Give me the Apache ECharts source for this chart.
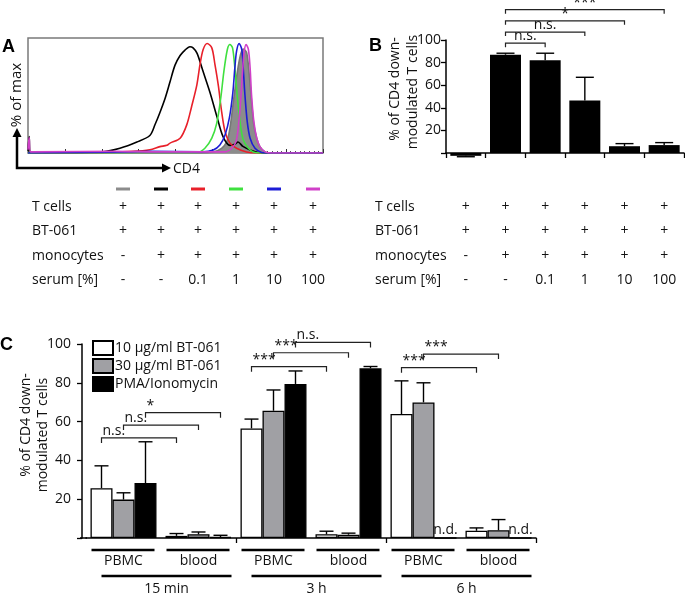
<!DOCTYPE html>
<html>
<head>
<meta charset="utf-8">
<script src="https://cdn.jsdelivr.net/npm/echarts/dist/echarts.min.js"></script>
<style>
  html, body { margin: 0; padding: 0; background: #fff; }
  #chart { width: 685px; height: 596px; }
</style>
</head>
<body>
<div id="chart"></div>
<script>
const FONT = '"Open Sans", sans-serif';

// ---- panel A: CD4 histograms, [channel, % of max]
const curveColors = ['#8c8c8c', '#000000', '#e8202a', '#3fe03f', '#1c1cd6', '#d040c8'];
const grayCurve = [[0, 0], [600, 0], [643, 1], [672, 4.3], [690, 10.4], [701, 22.7], [713, 47], [727, 74.6], [738, 90], [747, 95], [759, 91.5], [768, 71.5], [776, 47], [784, 25.7], [794, 13.5], [805, 5.8], [823, 1], [840, 0], [1024, 0]];
const blackCurve = [[0, 2], [4, 15], [8, 1], [87, 0.5], [260, 1.2], [319, 4.3], [378, 10], [423, 16], [441, 26], [458, 37], [476, 50], [493, 65], [510, 80], [528, 89], [545, 94], [562, 97], [573, 96], [587, 91], [607, 75], [632, 55], [656, 33], [677, 15], [701, 7], [718, 8], [729, 10], [746, 6], [771, 2.7], [798, 0.5], [840, 0], [1024, 0]];
const redCurve = [[0, 0], [250, 0.5], [364, 1.5], [423, 3], [458, 5.8], [482, 7], [493, 9], [528, 13.5], [551, 25.7], [568, 42.5], [586, 62], [597, 80.7], [608, 94.5], [622, 100], [638, 96], [649, 80.7], [661, 61], [672, 38], [684, 19.5], [701, 9], [724, 4.3], [759, 1], [788, 0], [1024, 0]];
const greenCurve = [[0, 0], [423, 0.5], [586, 0.5], [614, 4.3], [638, 13.5], [655, 27], [669, 50], [680, 74.6], [692, 94.5], [701, 99], [710, 96], [718, 77.7], [726, 53], [736, 28.7], [747, 12], [765, 4.3], [782, 1], [805, 0], [1024, 0]];
const blueCurve = [[0, 0], [347, 1], [423, 1.5], [607, 1], [643, 2.7], [666, 7.3], [684, 16.5], [699, 32], [711, 55], [718, 77.7], [724, 93], [733, 100], [742, 94.5], [747, 77.7], [753, 53], [761, 28.7], [771, 13.5], [788, 4.3], [811, 0.5], [833, 0], [1024, 0]];
const magentaCurve = [[0, 3], [4, 14], [9, 1], [300, 1.5], [450, 1], [684, 1], [707, 4.3], [722, 10.4], [731, 25.7], [738, 47], [744, 71.5], [750, 91.5], [757, 99], [765, 94.5], [771, 77.7], [776, 53], [784, 28.7], [794, 13.5], [805, 5.8], [823, 1], [847, 0], [1024, 0]];
const curves = [grayCurve, blackCurve, redCurve, greenCurve, blueCurve, magentaCurve];

// condition table (same for A and B)
const rowNames = ['T cells', 'BT-061', 'monocytes', 'serum [%]'];
const tCells = ['+', '+', '+', '+', '+', '+'];
const bt061 = ['+', '+', '+', '+', '+', '+'];
const monocytes = ['-', '+', '+', '+', '+', '+'];
const serum = ['-', '-', '0.1', '1', '10', '100'];
const tableRows = [tCells, bt061, monocytes, serum];

// ---- panel B
const bCategories = ['c1', 'c2', 'c3', 'c4', 'c5', 'c6'];
const bValues = [-2.5, 87, 82, 46.5, 6, 7];
const bErrTops = [-3.3, 88.3, 88.3, 67, 8.3, 9.2];
const bBrackets = [[1, 2, 97.2], [1, 3, 107], [1, 4, 117], [1, 5, 126.8]];
const bBracketLabels = ['n.s.', 'n.s.', '*', '***'];

// ---- panel C
const cGroups = ['PBMC', 'blood', 'PBMC', 'blood', 'PBMC', 'blood'];
const cTimes = ['15 min', '3 h', '6 h'];
const cSeriesNames = ['10 µg/ml BT-061', '30 µg/ml BT-061', 'PMA/Ionomycin'];
const bt10Values = [25.7, 1.1, 56.5, 1.9, 63.9, 3.7];
const bt10Err = [37.2, 2.3, 61.3, 3.5, 81, 5.2];
const bt30Values = [19.8, 1.9, 65.6, 1.7, 69.9, 4];
const bt30Err = [23.3, 3.1, 76.3, 2.5, 80, 9.5];
const pmaValues = [28.3, 0.5, 79.4, 87.5, null, null]; // null = n.d.
const pmaErr = [49.6, 1.4, 86.1, 88.4, null, null];
const cBrackets = [[0, 0, 1, 0, 51.6], [0, 1, 1, 1, 58.2], [0, 2, 1, 2, 64.6], [2, 0, 3, 0, 88.3], [2, 1, 3, 1, 95.5], [2, 2, 3, 2, 100.8], [4, 0, 5, 0, 87.8], [4, 1, 5, 1, 94.8]];
const cBracketLabels = ['n.s.', 'n.s.', '*', '***', '***', 'n.s.', '***', '***'];

const yTitle = ['% of CD4 down-', 'modulated T cells'];

const BAR_B = 31;
const BAR_C = 22;

const chart = echarts.init(document.getElementById('chart'));

// error bar: data [group, barIndex, value, errTop]
function errorSeries(axis, data, barW, nBars, cap) {
  return {
    type: 'custom', xAxisIndex: axis, yAxisIndex: axis, data, silent: true, z: 5,
    encode: { x: 0, y: [2, 3] },
    renderItem(params, api) {
      const cx = api.coord([api.value(0), 0])[0] + (api.value(1) - (nBars - 1) / 2) * barW;
      const y1 = api.coord([api.value(0), api.value(2)])[1];
      const y2 = api.coord([api.value(0), api.value(3)])[1];
      const st = { stroke: '#000', lineWidth: 1.4 };
      return {
        type: 'group',
        children: [
          { type: 'line', shape: { x1: cx, y1, x2: cx, y2 }, style: st },
          { type: 'line', shape: { x1: cx - cap, y1: y2, x2: cx + cap, y2 }, style: st },
        ],
      };
    },
  };
}

// significance bracket: data [g1, k1, g2, k2, y]
function bracketSeries(axis, data, labels, barW, nBars, drop, alignLeft) {
  return {
    type: 'custom', xAxisIndex: axis, yAxisIndex: axis, data, silent: true, z: 6,
    encode: { x: 0, y: 4 },
    renderItem(params, api) {
      const off = (k) => (k - (nBars - 1) / 2) * barW;
      const x1 = api.coord([api.value(0), 0])[0] + off(api.value(1));
      const x2 = api.coord([api.value(2), 0])[0] + off(api.value(3));
      const y = api.coord([api.value(0), api.value(4)])[1];
      return {
        type: 'group',
        children: [
          { type: 'polyline', shape: { points: [[x1, y + drop], [x1, y], [x2, y], [x2, y + drop]] }, style: { stroke: '#222', lineWidth: 1.2, fill: null } },
          {
            type: 'text',
            style: {
              text: labels[params.dataIndex], x: alignLeft ? x1 + 1 : (x1 + x2) / 2, y: y,
              textAlign: alignLeft ? 'left' : 'center', textVerticalAlign: 'bottom',
              fontSize: 14, fontFamily: FONT, fill: '#111',
            },
          },
        ],
      };
    },
  };
}

const valueAxisStyle = {
  type: 'value', min: 0, max: 100, interval: 20,
  axisLine: { show: true, lineStyle: { color: '#000', width: 1.5 } },
  axisTick: { show: true, length: 5, lineStyle: { color: '#000', width: 1.3 } },
  splitLine: { show: false },
  axisLabel: { fontSize: 14, fontFamily: FONT, color: '#111', formatter: (v) => (v === 0 ? '' : v) },
};

const series = [];
curves.forEach((c, i) => {
  series.push({
    type: 'line', xAxisIndex: 0, yAxisIndex: 0, data: c, showSymbol: false, smooth: 0.3,
    lineStyle: { color: i === 0 ? '#777' : curveColors[i], width: 1.6 },
    areaStyle: i === 0 ? { color: curveColors[0], opacity: 1 } : undefined,
    silent: true, z: 2 + i,
  });
});

series.push({
  type: 'bar', xAxisIndex: 1, yAxisIndex: 1, data: bValues, barWidth: BAR_B, clip: false,
  itemStyle: { color: '#000' },
});
series.push(errorSeries(1, bValues.map((v, i) => [i, 0, v, bErrTops[i]]), BAR_B, 1, 9));
series.push(bracketSeries(1, bBrackets.map((b) => [b[0], 0, b[1], 0, b[2]]), bBracketLabels, BAR_B, 1, 4, false));

const cValues = [bt10Values, bt30Values, pmaValues];
const cErrs = [bt10Err, bt30Err, pmaErr];
const cFills = ['#ffffff', '#a0a0a4', '#000000'];
cValues.forEach((vals, k) => {
  series.push({
    type: 'bar', name: cSeriesNames[k], xAxisIndex: 2, yAxisIndex: 2, barWidth: BAR_C, barGap: '0%',
    itemStyle: { color: cFills[k], borderColor: '#000', borderWidth: 1.3 },
    data: vals.map((v) => (v === null
      ? { value: 0, label: { show: true, formatter: 'n.d.', position: 'top', distance: 0, fontSize: 14, fontFamily: FONT, color: '#111' } }
      : v)),
  });
});
const cErrData = [];
cValues.forEach((vals, k) => vals.forEach((v, g) => {
  if (v !== null) cErrData.push([g, k, v, cErrs[k][g]]);
}));
series.push(errorSeries(2, cErrData, BAR_C, 3, 7));
series.push(bracketSeries(2, cBrackets, cBracketLabels, BAR_C, 3, 5, true));

chart.setOption({
  animation: false,
  backgroundColor: '#fff',
  textStyle: { fontFamily: FONT },
  grid: [
    { left: 28, top: 38, width: 295, height: 115, show: true, borderColor: '#7a7a7a', borderWidth: 1.5 },
    { left: 446, top: 40, width: 238, height: 113 },
    { left: 86, top: 344, width: 450, height: 194 },
  ],
  xAxis: [
    {
      type: 'value', gridIndex: 0, min: 0, max: 1024, interval: 128,
      axisLine: { show: false }, splitLine: { show: false }, axisLabel: { show: false },
      axisTick: { show: true, inside: true, length: 4, lineStyle: { color: '#333' } },
      minorTick: { show: true, splitNumber: 8, length: 2, lineStyle: { color: '#555' } },
    },
    {
      type: 'category', gridIndex: 1, data: bCategories,
      axisLine: { show: true, onZero: true, lineStyle: { color: '#000', width: 1.5 } },
      axisTick: { show: true, length: 5, lineStyle: { color: '#000', width: 1.3 } },
      axisLabel: { show: false },
    },
    {
      type: 'category', gridIndex: 2, data: cGroups,
      axisLine: { show: true, lineStyle: { color: '#000', width: 1.5 } },
      axisTick: { show: true, length: 5, interval: (i) => i === 2 || i === 4, lineStyle: { color: '#000', width: 1.3 } },
      axisLabel: { show: false },
    },
  ],
  yAxis: [
    { type: 'value', gridIndex: 0, min: 0, max: 105, show: false },
    Object.assign({}, valueAxisStyle, { gridIndex: 1, axisLabel: Object.assign({}, valueAxisStyle.axisLabel, { margin: 5 }) }),
    Object.assign({}, valueAxisStyle, { gridIndex: 2, offset: 4, axisLabel: Object.assign({}, valueAxisStyle.axisLabel, { margin: 11 }) }),
  ],
  legend: {
    data: cSeriesNames, orient: 'vertical', left: 92, top: 340, padding: 0,
    itemWidth: 20, itemHeight: 14, itemGap: 2, icon: 'rect',
    textStyle: { fontSize: 14, fontFamily: FONT, color: '#111', padding: [0, 0, 0, -3] },
  },
  series,
});

// ---- annotations (tables, labels, arrows)
const txt = (text, x, y, extra) => ({
  type: 'text', silent: true,
  style: Object.assign({ text, x, y, textAlign: 'center', textVerticalAlign: 'middle', fontSize: 14, fontFamily: FONT, fill: '#111' }, extra || {}),
});
const vtxt = (text, x, y, size) => ({
  type: 'text', silent: true, x, y, rotation: Math.PI / 2,
  style: { text, textAlign: 'center', textVerticalAlign: 'middle', fontSize: size || 14, fontFamily: FONT, fill: '#111' },
});
const graphic = [];

graphic.push(txt('A', 2, 47, { textAlign: 'left', fontSize: 18, fontWeight: 'bold', fontFamily: 'Arial, sans-serif', fill: '#000' }));
graphic.push(txt('B', 369, 46, { textAlign: 'left', fontSize: 18, fontWeight: 'bold', fontFamily: 'Arial, sans-serif', fill: '#000' }));
graphic.push(txt('C', 0, 345, { textAlign: 'left', fontSize: 18, fontWeight: 'bold', fontFamily: 'Arial, sans-serif', fill: '#000' }));

// axis titles
graphic.push(vtxt('% of max', 17, 95, 15));
graphic.push(vtxt(yTitle[0], 395, 89));
graphic.push(vtxt(yTitle[1], 413, 92));
graphic.push(vtxt(yTitle[0], 26, 425));
graphic.push(vtxt(yTitle[1], 43, 435));

// A axis arrows
graphic.push({ type: 'polyline', silent: true, shape: { points: [[17, 136], [17, 168], [164, 168]] }, style: { stroke: '#000', lineWidth: 2.5, fill: null } });
graphic.push({ type: 'polygon', silent: true, shape: { points: [[17, 128], [12.5, 137], [21.5, 137]] }, style: { fill: '#000' } });
graphic.push({ type: 'polygon', silent: true, shape: { points: [[171, 168], [162, 163.5], [162, 172.5]] }, style: { fill: '#000' } });
graphic.push(txt('CD4', 173, 169, { textAlign: 'left' }));

// tables
const rowY = [207, 231.5, 256, 280.5];
const aCols = [123, 161, 198, 236, 274, 313];
const bCols = bCategories.map((c, i) => chart.convertToPixel({ xAxisIndex: 1 }, i));
aCols.forEach((x, i) => {
  graphic.push({ type: 'line', silent: true, shape: { x1: x - 7, y1: 189, x2: x + 7, y2: 189 }, style: { stroke: curveColors[i], lineWidth: 3 } });
});
[[32, aCols], [375, bCols]].forEach(([lx, cols]) => {
  rowNames.forEach((name, r) => {
    graphic.push(txt(name, lx, rowY[r], { textAlign: 'left' }));
    tableRows[r].forEach((v, c) => graphic.push(txt(v, cols[c], rowY[r])));
  });
});

// C: extend the x axis line to meet the offset y axis
const cBase = chart.convertToPixel({ yAxisIndex: 2 }, 0);
graphic.push({ type: 'line', silent: true, shape: { x1: 80, y1: cBase, x2: 87, y2: cBase }, style: { stroke: '#000', lineWidth: 1.5 } });

// C group labels under axis
const gx = cGroups.map((g, i) => chart.convertToPixel({ xAxisIndex: 2 }, i));
cGroups.forEach((g, i) => {
  graphic.push({ type: 'line', silent: true, shape: { x1: gx[i] - 32, y1: 550, x2: gx[i] + 31, y2: 550 }, style: { stroke: '#000', lineWidth: 2.5 } });
  graphic.push(txt(g, gx[i], 561));
});
cTimes.forEach((t, j) => {
  const x1 = gx[2 * j] - BAR_C;
  const x2 = gx[2 * j + 1] + 33;
  graphic.push({ type: 'line', silent: true, shape: { x1, y1: 576, x2, y2: 576 }, style: { stroke: '#000', lineWidth: 2.5 } });
  graphic.push(txt(t, (x1 + x2) / 2, 589));
});

chart.setOption({ graphic });
</script>
</body>
</html>
